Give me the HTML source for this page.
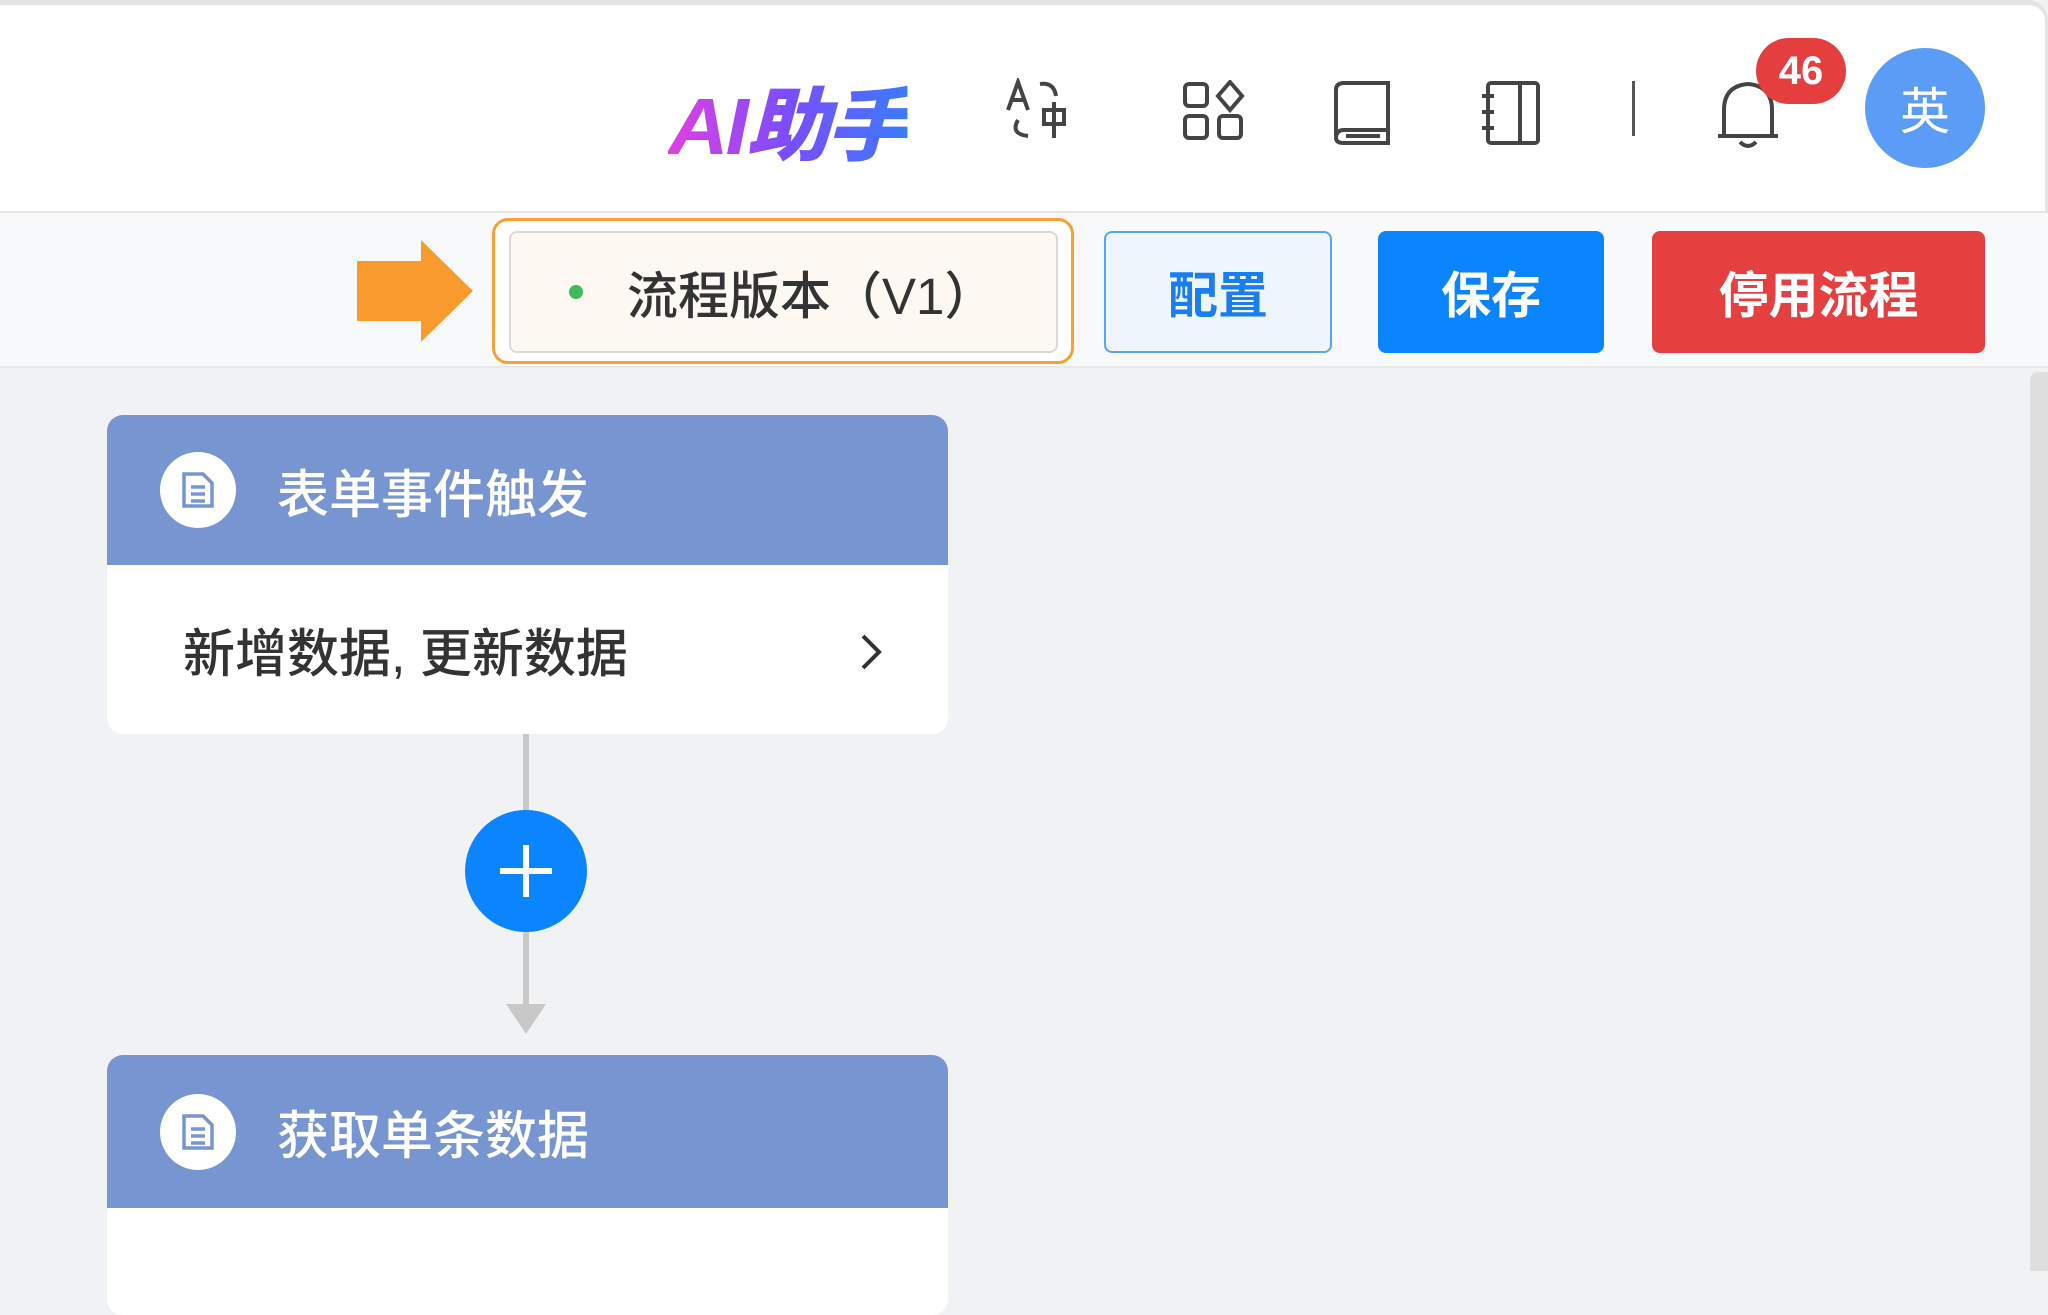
<!DOCTYPE html>
<html><head><meta charset="utf-8"><style>
*{margin:0;padding:0;box-sizing:border-box}
body{width:2048px;height:1271px;overflow:hidden;background:#f1f2f4;font-family:"Liberation Sans","Noto Sans CJK SC",sans-serif;position:relative}
.a{position:absolute}
.hdr{left:0;top:0;width:2048px;height:213px;background:#fff;border-top:5px solid #e4e4e4;border-bottom:2px solid #e6e6e6;border-right:3px solid #e4e4e4;border-top-right-radius:20px}
.tb{left:0;top:213px;width:2048px;height:155px;background:#f8f9fa;border-bottom:2px solid #e8e8e8}
.btn{top:231px;height:122px;border-radius:8px;font-size:50px;font-weight:bold;display:flex;align-items:center;justify-content:center}
.card{left:107px;width:841px;background:#fff;border-radius:16px;overflow:hidden}
.ch{height:150px;background:#7695d1;display:flex;align-items:center;color:#fff;font-size:52px;font-weight:500}
.ic{width:76px;height:76px;border-radius:50%;background:#fff;margin-left:53px;margin-right:41px;display:flex;align-items:center;justify-content:center}
</style></head><body>
<div class="a hdr"></div>
<div class="a" style="left:668px;top:62px;font-size:80px;font-weight:900;font-style:italic;background:linear-gradient(90deg,#e040e0,#7a4dff,#3a7bff);-webkit-background-clip:text;color:transparent;letter-spacing:-3px;transform:scaleX(1.05);transform-origin:left">AI助手</div>
<svg class="a" style="left:1004px;top:78px" width="66" height="62" viewBox="0 0 66 62" fill="none" stroke="#444" stroke-width="4"><path d="M4 32 L14 4 L24 32 M8 22 H20"/><path d="M36 6 Q50 4 52 18"/><path d="M14 42 Q6 56 24 58"/><rect x="40" y="32" width="20" height="14"/><path d="M50 24 V60"/></svg>
<svg class="a" style="left:1182px;top:80px" width="64" height="62" viewBox="0 0 64 62" fill="none" stroke="#444" stroke-width="4"><rect x="3" y="4" width="22" height="22" rx="4"/><rect x="3" y="36" width="22" height="22" rx="4"/><rect x="37" y="36" width="22" height="22" rx="4"/><path d="M48 2 L60 16 L48 30 L36 16 Z"/></svg>
<svg class="a" style="left:1332px;top:80px" width="62" height="66" viewBox="0 0 62 66" fill="none" stroke="#444" stroke-width="4"><path d="M4 56 V10 Q4 3 12 3 H56 V50 H12 Q4 50 4 58 Q4 63 12 63 H56 V50"/><path d="M14 56 H48"/></svg>
<svg class="a" style="left:1480px;top:80px" width="62" height="66" viewBox="0 0 62 66" fill="none" stroke="#444" stroke-width="4"><rect x="8" y="3" width="50" height="60" rx="3"/><path d="M40 3 V63 M2 16 H14 M2 32 H14 M2 48 H14"/></svg>
<div class="a" style="left:1632px;top:81px;width:3px;height:55px;background:#555"></div>
<svg class="a" style="left:1712px;top:76px" width="72" height="74" viewBox="0 0 72 74" fill="none" stroke="#444" stroke-width="4"><path d="M6 60 H66 M12 60 V34 Q12 10 36 8 Q60 10 60 34 V60"/><path d="M28 66 Q36 74 44 66"/></svg>
<div class="a" style="left:1756px;top:38px;width:90px;height:66px;border-radius:33px;background:#e53e3e;color:#fff;font-size:40px;display:flex;align-items:center;justify-content:center;font-weight:bold">46</div>
<div class="a" style="left:1865px;top:48px;width:120px;height:120px;border-radius:50%;background:#5b9cf7;color:#fff;font-size:50px;display:flex;align-items:center;justify-content:center">英</div>
<div class="a tb"></div>
<svg class="a" style="left:357px;top:240px" width="118" height="104"><path d="M0 21 H64 V0 L116 51 L64 102 V81 H0 Z" fill="#f89a2c"/></svg>
<div class="a" style="left:492px;top:218px;width:582px;height:146px;border:3px solid #f7a035;border-radius:16px;background:#fff"></div>
<div class="a" style="left:509px;top:231px;width:549px;height:122px;border:2px solid #dcd9d5;border-radius:8px;background:#fdf8f2;display:flex;align-items:center;font-size:51px;color:#333;font-weight:500">
<span style="width:14px;height:14px;border-radius:50%;background:#3cb95a;margin-left:58px;margin-right:44px"></span>流程版本（V1）</div>
<div class="a btn" style="left:1104px;width:228px;background:#eef5fd;border:2px solid #5aa3f5;color:#1a7ef0">配置</div>
<div class="a btn" style="left:1378px;width:226px;background:#0a84ff;color:#fff">保存</div>
<div class="a btn" style="left:1652px;width:333px;background:#e53f3f;color:#fff">停用流程</div>
<div class="a" style="left:2030px;top:372px;width:18px;height:899px;background:#dedede;border-radius:8px 0 0 0"></div>
<div class="a card" style="top:415px;height:319px">
<div class="ch"><div class="ic"><svg width="34" height="38" viewBox="0 0 34 38" fill="none" stroke="#7695d1" stroke-width="3.5"><path d="M3 3 H22 L31 12 V35 H3 Z"/><path d="M10 16 H24 M10 23 H24 M10 30 H24"/></svg></div>表单事件触发</div>
<div style="height:169px;display:flex;align-items:center;padding-left:76px;font-size:52px;color:#333;font-weight:500;position:relative">新增数据, 更新数据
<svg style="position:absolute;left:752px;top:68px" width="26" height="38"><path d="M4 3 L20 19 L4 35" fill="none" stroke="#333" stroke-width="4"/></svg></div>
</div>
<div class="a" style="left:523px;top:734px;width:6px;height:276px;background:#c8c8c8"></div>
<svg class="a" style="left:506px;top:1004px" width="40" height="32"><path d="M0 0 H40 L20 30 Z" fill="#c8c8c8"/></svg>
<div class="a" style="left:465px;top:810px;width:122px;height:122px;border-radius:50%;background:#0a84ff"></div>
<div class="a" style="left:500px;top:868px;width:52px;height:6px;background:#fff"></div>
<div class="a" style="left:523px;top:845px;width:6px;height:52px;background:#fff"></div>
<div class="a card" style="top:1055px;height:260px">
<div class="ch" style="height:153px"><div class="ic"><svg width="34" height="38" viewBox="0 0 34 38" fill="none" stroke="#7695d1" stroke-width="3.5"><path d="M3 3 H22 L31 12 V35 H3 Z"/><path d="M10 16 H24 M10 23 H24 M10 30 H24"/></svg></div>获取单条数据</div>
</div>
</body></html>
